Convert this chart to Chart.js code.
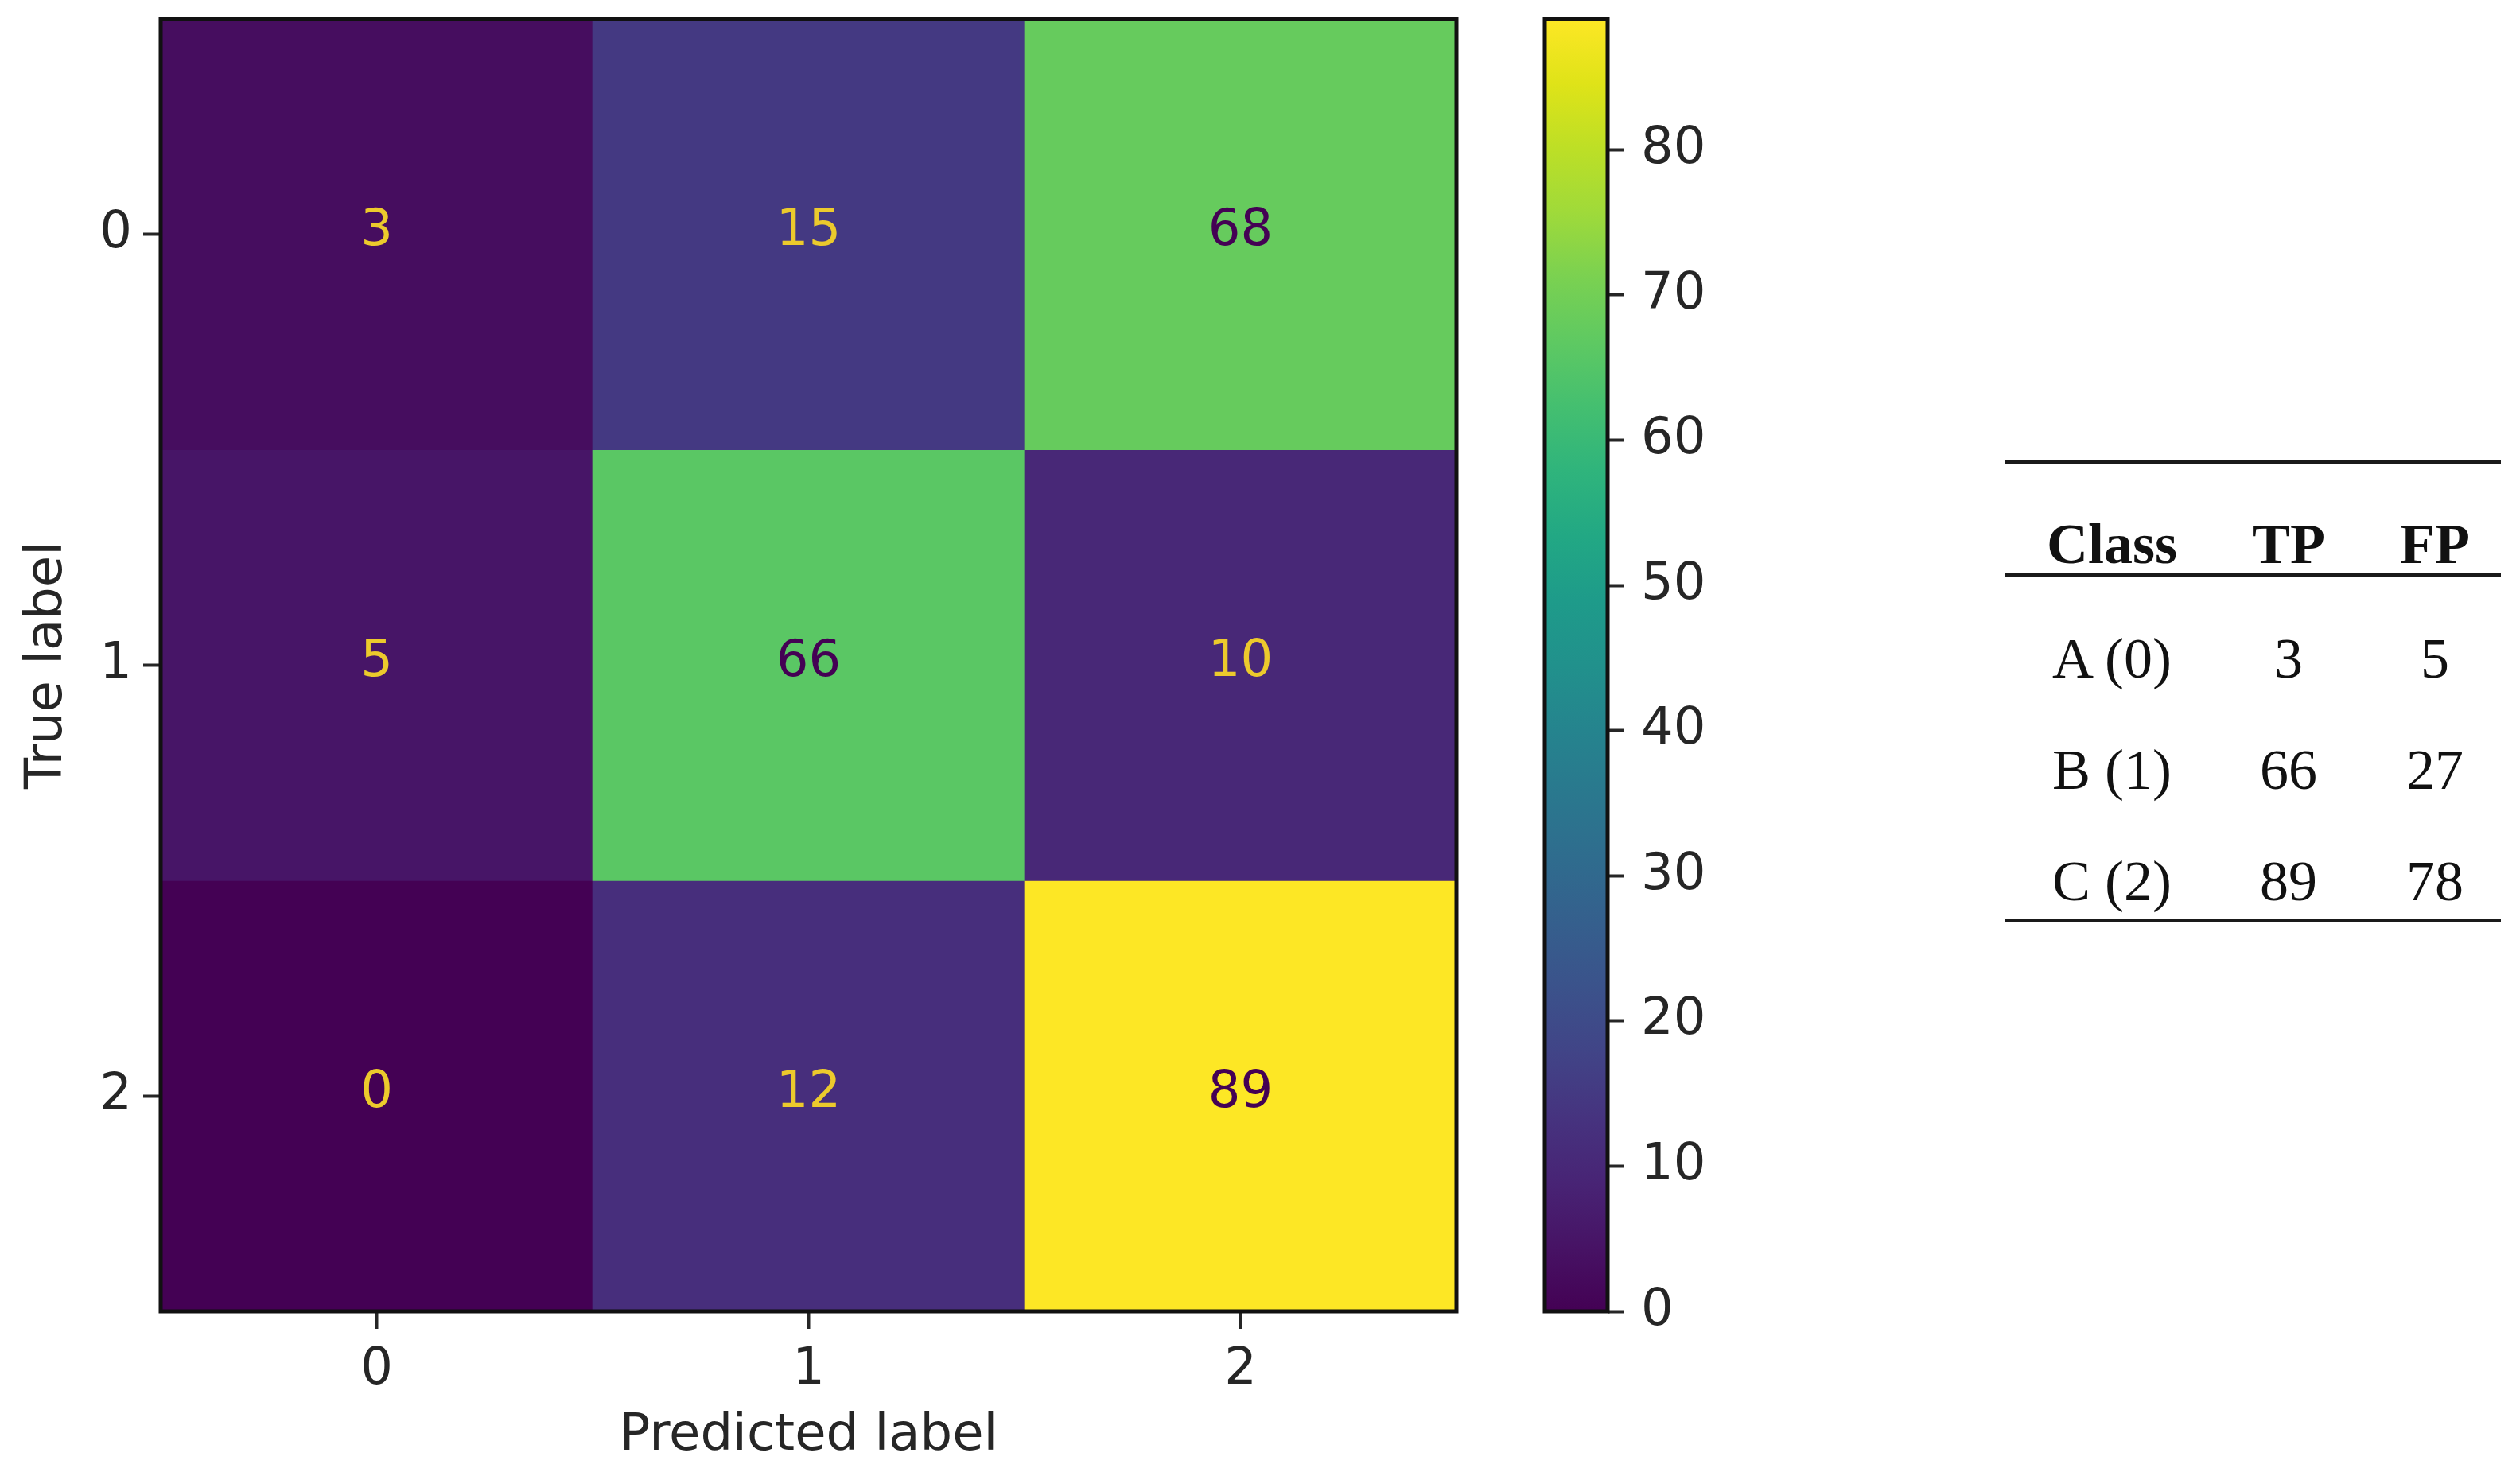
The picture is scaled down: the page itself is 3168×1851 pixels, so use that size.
<!DOCTYPE html>
<html>
<head>
<meta charset="utf-8">
<title>Confusion matrix</title>
<script src="https://cdn.jsdelivr.net/npm/chart.js@4.4.1/dist/chart.umd.min.js"></script>
<style>
  html, body { margin: 0; padding: 0; background: #fff; }
  body { width: 3168px; height: 1851px; position: relative; overflow: hidden; }
  #chartMatrix { position: absolute; left: 0; top: 0; }
  #chartColorbar { position: absolute; left: 1900px; top: 0; }
  #tabela { position: absolute; left: 2521px; top: 0; width: 623px; height: 1851px;
    font-family: "Liberation Serif", "DejaVu Serif", serif; font-size: 72px; color: #111; }
  .regra { position: absolute; left: 0; width: 623px; height: 5px; background: #1a1a1a; }
  .cel { position: absolute; line-height: 72px; white-space: nowrap; transform: translate(-50%, -50%); }
  .cab { font-weight: bold; }
</style>
</head>
<body>
<canvas id="chartMatrix" width="1900" height="1851"></canvas>
<canvas id="chartColorbar" width="400" height="1851"></canvas>
<div id="tabela"></div>

<script>
/* global Chart */

// ================== DADOS ==================
const predictedLabels = ["0", "1", "2"];
const trueLabels = ["0", "1", "2"];
const matrixRow0 = [3, 15, 68];
const matrixRow1 = [5, 66, 10];
const matrixRow2 = [0, 12, 89];
const colorbarTicks = [0, 10, 20, 30, 40, 50, 60, 70, 80];

const tableHeader = ["Class", "TP", "FP"];
const tableClasses = ["A (0)", "B (1)", "C (2)"];
const tableTP = [3, 66, 89];
const tableFP = [5, 27, 78];

// ================== CORES (viridis) ==================
const viridisStops = [
  "#440154", "#471365", "#482475", "#46337f", "#414487", "#3b528b", "#355f8d",
  "#2f6c8e", "#2a788e", "#25848e", "#21918c", "#1e9b8a", "#22a884", "#2fb47c",
  "#44bf70", "#5ec962", "#7ad151", "#9fda3a", "#bddf26", "#dfe318", "#fde725",
];

function hexToRgb(h) {
  return [1, 3, 5].map((i) => parseInt(h.slice(i, i + 2), 16));
}

function viridis(t) {
  t = Math.min(1, Math.max(0, t));
  const pos = t * (viridisStops.length - 1);
  const i = Math.min(Math.floor(pos), viridisStops.length - 2);
  const f = pos - i;
  const a = hexToRgb(viridisStops[i]);
  const b = hexToRgb(viridisStops[i + 1]);
  const c = a.map((v, k) => Math.round(v + (b[k] - v) * f));
  return `rgb(${c[0]},${c[1]},${c[2]})`;
}

const matrixRows = [matrixRow0, matrixRow1, matrixRow2];
const allValues = matrixRows.flat();
const vmin = Math.min(...allValues);
const vmax = Math.max(...allValues);

const fonte = '"DejaVu Sans", sans-serif';
const corTexto = "#262626";
const textoClaro = "#ecca2c";
const textoEscuro = "#440154";

// ticks de fora, estilo matplotlib
const gridTicks = {
  display: true,
  drawOnChartArea: false,
  drawTicks: true,
  tickLength: 22,
  tickWidth: 4,
  tickColor: corTexto,
  offset: false,
};

// ================== MATRIZ ==================
const matrixPlugin = {
  id: "matrixLabels",
  afterDatasetsDraw(chart) {
    const { ctx, chartArea, scales } = chart;
    ctx.save();
    ctx.font = "64px " + fonte;
    ctx.textAlign = "center";
    ctx.textBaseline = "middle";
    matrixRows.forEach((row, r) => {
      row.forEach((v, c) => {
        ctx.fillStyle = v < (vmax + vmin) / 2 ? textoClaro : textoEscuro;
        ctx.fillText(String(v), scales.x.getPixelForValue(c), scales.y.getPixelForValue(r) - 3);
      });
    });
    ctx.lineWidth = 5;
    ctx.strokeStyle = "#111";
    ctx.strokeRect(chartArea.left, chartArea.top, chartArea.width, chartArea.height);
    ctx.restore();
  },
};

new Chart(document.getElementById("chartMatrix"), {
  type: "bar",
  data: {
    labels: predictedLabels,
    datasets: matrixRows.map((row, r) => ({
      label: "True label " + trueLabels[r],
      data: row.map(() => [r - 0.5, r + 0.5]),
      backgroundColor: row.map((v) => viridis((v - vmin) / (vmax - vmin))),
      borderWidth: 0,
      grouped: false,
      barPercentage: 1,
      categoryPercentage: 1,
    })),
  },
  options: {
    responsive: false,
    animation: false,
    layout: { padding: { left: 0, top: 24, right: 69, bottom: 0 } },
    plugins: { legend: { display: false }, tooltip: { enabled: false } },
    scales: {
      x: {
        type: "category",
        offset: true,
        grid: gridTicks,
        border: { display: false },
        ticks: { color: corTexto, font: { family: fonte, size: 64 }, padding: 14, maxRotation: 0 },
        title: {
          display: true,
          text: "Predicted label",
          color: corTexto,
          font: { family: fonte, size: 64, lineHeight: 1.2 },
          padding: { top: 0, bottom: 6 },
        },
        afterFit(scale) {
          scale.height = 202;
          scale.paddingLeft = 0;
          scale.paddingRight = 0;
        },
      },
      y: {
        type: "linear",
        min: -0.5,
        max: 2.5,
        reverse: true,
        afterBuildTicks(scale) {
          scale.ticks = trueLabels.map((_, i) => ({ value: i }));
        },
        grid: gridTicks,
        border: { display: false },
        ticks: {
          color: corTexto,
          font: { family: fonte, size: 64 },
          padding: 14,
          callback: (v) => trueLabels[v],
        },
        title: {
          display: true,
          text: "True label",
          color: corTexto,
          font: { family: fonte, size: 64, lineHeight: 1.2 },
          padding: { top: 22, bottom: 0 },
        },
        afterFit(scale) {
          scale.width = 202;
          scale.paddingTop = 0;
          scale.paddingBottom = 0;
        },
      },
    },
  },
  plugins: [matrixPlugin],
});

// ================== BARRA DE CORES ==================
const framePlugin = {
  id: "colorbarFrame",
  afterDatasetsDraw(chart) {
    const { ctx, chartArea } = chart;
    ctx.save();
    ctx.lineWidth = 5;
    ctx.strokeStyle = "#111";
    ctx.strokeRect(chartArea.left, chartArea.top, chartArea.width, chartArea.height);
    ctx.restore();
  },
};

new Chart(document.getElementById("chartColorbar"), {
  type: "bar",
  data: {
    labels: [""],
    datasets: [
      {
        data: [[vmin, vmax]],
        backgroundColor(context) {
          const chart = context.chart;
          if (!chart.chartArea) return viridis(0.5);
          const y = chart.scales.y;
          const g = chart.ctx.createLinearGradient(0, y.getPixelForValue(vmin), 0, y.getPixelForValue(vmax));
          viridisStops.forEach((c, i) => g.addColorStop(i / (viridisStops.length - 1), c));
          return g;
        },
        borderWidth: 0,
        barPercentage: 1,
        categoryPercentage: 1,
      },
    ],
  },
  options: {
    responsive: false,
    animation: false,
    layout: { padding: { left: 42, top: 24, right: 0, bottom: 202 } },
    plugins: { legend: { display: false }, tooltip: { enabled: false } },
    scales: {
      x: { display: false },
      y: {
        position: "right",
        min: vmin,
        max: vmax,
        afterBuildTicks(scale) {
          scale.ticks = colorbarTicks.map((v) => ({ value: v }));
        },
        grid: { ...gridTicks, tickLength: 20 },
        border: { display: false },
        ticks: { color: corTexto, font: { family: fonte, size: 64 }, padding: 22 },
        afterFit(scale) {
          scale.width = 279;
          scale.paddingTop = 0;
          scale.paddingBottom = 0;
        },
      },
    },
  },
  plugins: [framePlugin],
});

// ================== TABELA ==================
const tabela = document.getElementById("tabela");
const colunasX = [134, 356, 540];

function addRegra(top) {
  const d = document.createElement("div");
  d.className = "regra";
  d.style.top = top + "px";
  tabela.appendChild(d);
}

function addCelula(texto, x, y, cabecalho) {
  const d = document.createElement("div");
  d.className = cabecalho ? "cel cab" : "cel";
  d.style.left = x + "px";
  d.style.top = y + "px";
  d.textContent = texto;
  tabela.appendChild(d);
}

addRegra(578);
addRegra(721);
addRegra(1155);

tableHeader.forEach((h, i) => addCelula(h, colunasX[i], 684, true));
tableClasses.forEach((cls, r) => {
  const y = 828 + r * 140;
  addCelula(cls, colunasX[0], y, false);
  addCelula(String(tableTP[r]), colunasX[1], y, false);
  addCelula(String(tableFP[r]), colunasX[2], y, false);
});
</script>
</body>
</html>
